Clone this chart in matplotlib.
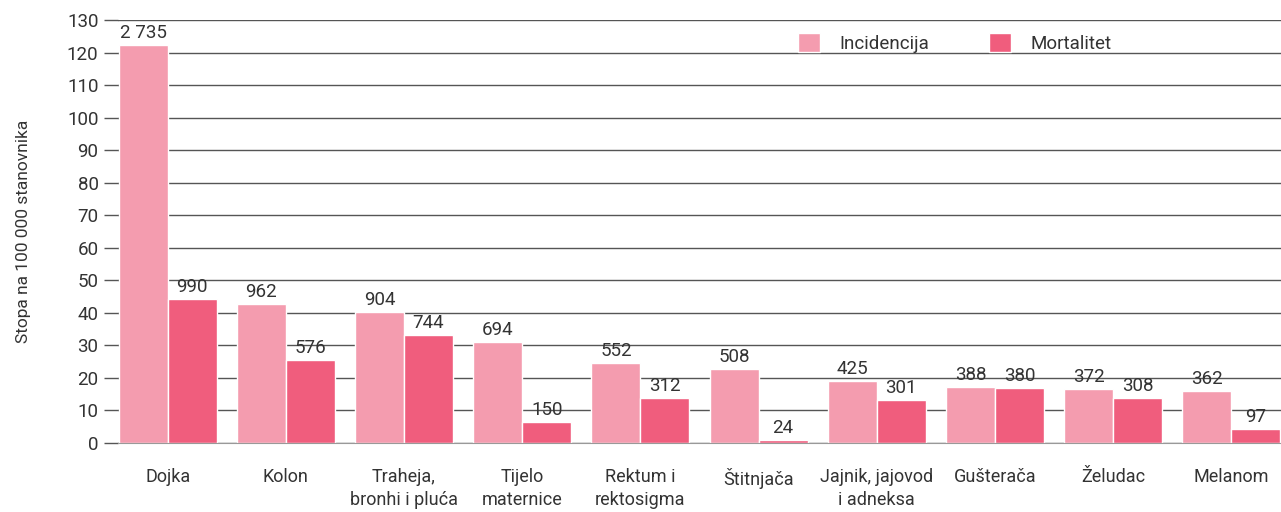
import numpy as np
import matplotlib.pyplot as plt

plt.rcParams['font.family'] = ['Roboto', 'DejaVu Sans']

# data
categories = ["Dojka", "Kolon", "Traheja,\nbronhi i pluća", "Tijelo\nmaternice",
              "Rektum i\nrektosigma", "Štitnjača", "Jajnik, jajovod\ni adneksa",
              "Gušterača", "Želudac", "Melanom"]
incidence_rate = [122.3, 42.7, 40.3, 31.0, 24.6, 22.7, 19.1, 17.2, 16.6, 16.0]
mortality_rate = [44.3, 25.5, 33.2, 6.5, 13.8, 0.9, 13.2, 16.9, 13.8, 4.3]
incidence_n = ["2 735", "962", "904", "694", "552", "508", "425", "388", "372", "362"]
mortality_n = ["990", "576", "744", "150", "312", "24", "301", "380", "308", "97"]
yticks = list(range(0, 131, 10))

c_inc = "#F49CAF"
c_mort = "#F05D7D"
txt = "#333333"

fig = plt.figure(figsize=(12.81, 5.12), dpi=100)
ax = fig.add_axes([118 / 1281, 1 - 443 / 512, 1 - 118 / 1281, (443 - 20) / 512])

x = np.arange(len(categories))
w = 0.415
b1 = ax.bar(x - w / 2, incidence_rate, w, color=c_inc, edgecolor="white",
            linewidth=1, label="Incidencija", zorder=3)
b2 = ax.bar(x + w / 2, mortality_rate, w, color=c_mort, edgecolor="white",
            linewidth=1, label="Mortalitet", zorder=3)

for rect, lab in zip(b1, incidence_n):
    ax.text(rect.get_x() + rect.get_width() / 2, rect.get_height() + 0.9, lab,
            ha="center", va="bottom", fontsize=13.5, color=txt)
for rect, lab in zip(b2, mortality_n):
    ax.text(rect.get_x() + rect.get_width() / 2, rect.get_height() + 0.9, lab,
            ha="center", va="bottom", fontsize=13.5, color=txt)

ax.set_xlim(-0.42, len(categories) - 1 + 0.42)
ax.set_ylim(0, 130)
ax.set_yticks(yticks)
ax.set_yticklabels([str(t) for t in yticks], fontsize=13.5, color=txt)
ax.yaxis.grid(True, color="#555555", linewidth=1, zorder=0)
ax.tick_params(axis="y", length=10, color="#555555", width=1, pad=4)
ax.set_xticks(x)
ax.set_xticklabels(categories, fontsize=13, color=txt, va="top")
ax.tick_params(axis="x", length=0, pad=18)
for lab in ax.get_xticklabels():
    lab.set_linespacing(1.35)

for s in ["top", "right", "left"]:
    ax.spines[s].set_visible(False)
ax.spines["bottom"].set_color("#999999")
ax.spines["bottom"].set_zorder(4)

ax.set_ylabel("Stopa na 100 000 stanovnika", fontsize=12.5, color=txt, labelpad=26)

ax.legend(loc="upper left", bbox_to_anchor=(0.57, 1.01), ncol=2, frameon=False,
          fontsize=13.5, handlelength=1.2, handleheight=1.2, columnspacing=3.2,
          handletextpad=1.0, labelcolor=txt)

fig.savefig("out.png", dpi=100)
